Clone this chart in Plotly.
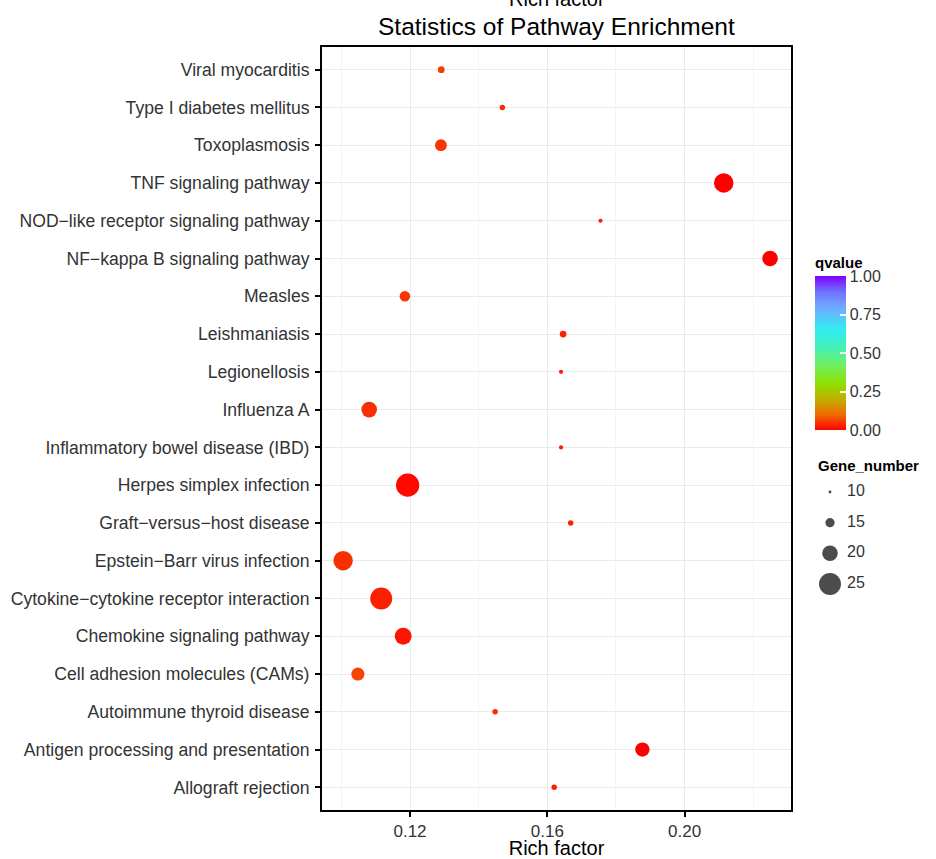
import plotly.graph_objects as go

# ---------------- data ----------------
pathways = [
    "Allograft rejection",
    "Antigen processing and presentation",
    "Autoimmune thyroid disease",
    "Cell adhesion molecules (CAMs)",
    "Chemokine signaling pathway",
    "Cytokine\u2212cytokine receptor interaction",
    "Epstein\u2212Barr virus infection",
    "Graft\u2212versus\u2212host disease",
    "Herpes simplex infection",
    "Inflammatory bowel disease (IBD)",
    "Influenza A",
    "Legionellosis",
    "Leishmaniasis",
    "Measles",
    "NF\u2212kappa B signaling pathway",
    "NOD\u2212like receptor signaling pathway",
    "TNF signaling pathway",
    "Toxoplasmosis",
    "Type I diabetes mellitus",
    "Viral myocarditis",
]
rich_factor = [0.1620, 0.1877, 0.1448, 0.1048, 0.1180, 0.1116, 0.1005, 0.1668, 0.1193, 0.1640,
               0.1081, 0.1640, 0.1646, 0.1185, 0.2249, 0.1755, 0.2114, 0.1290, 0.1469, 0.1291]
gene_number = [12, 19, 12, 18, 21, 25, 23, 12, 26, 11,
               20, 11, 13, 16, 20, 11, 23, 17, 12, 13]
qvalue = [0.03, 0.0, 0.04, 0.065, 0.02, 0.03, 0.045, 0.03, 0.008, 0.03,
          0.045, 0.03, 0.035, 0.05, 0.0, 0.03, 0.0, 0.05, 0.04, 0.055]

x_ticks = [0.12, 0.16, 0.20]
x_tick_labels = ["0.12", "0.16", "0.20"]
x_minor = [0.10, 0.14, 0.18, 0.22]
q_ticks = [0.0, 0.25, 0.50, 0.75, 1.00]
q_tick_labels = ["0.00", "0.25", "0.50", "0.75", "1.00"]
size_legend = [10, 15, 20, 25]

# ---------------- style ----------------
FONT = "Liberation Sans, Arial, sans-serif"
W, H = 936, 859
L, R, T, B = 322, 0, 47, 49
PW = W - L - R
PH = H - T - B
plot_bottom = H - B
plot_right = 791


def dia(n):
    return 1.27 * n - 9.8


def py(pix):
    """pixel row -> paper fraction"""
    return (plot_bottom - pix) / PH


colorscale = [
    [0.0, "#FF0000"], [0.1, "#F06A00"], [0.2, "#C0B000"], [0.3, "#8EE000"],
    [0.42, "#70F060"], [0.55, "#40F0C0"], [0.65, "#30EEF0"], [0.8, "#70A8FF"],
    [0.9, "#7070FF"], [1.0, "#8000FF"],
]

fig = go.Figure()

cb_bottom, cb_bar, cb_title = 430, 152, 24
cb_len = cb_bar + cb_title

fig.add_trace(go.Scatter(
    x=rich_factor, y=pathways, mode="markers",
    marker=dict(
        size=[dia(n) for n in gene_number],
        color=qvalue, cmin=0, cmax=1, colorscale=colorscale,
        line=dict(width=0), opacity=1,
        colorbar=dict(
            title=dict(text="<b>qvalue</b>", side="top",
                       font=dict(family=FONT, size=15, color="black")),
            x=(815 - L) / PW, xanchor="left",
            y=py(cb_bottom), yanchor="bottom",
            len=cb_len, lenmode="pixels", thickness=31, thicknessmode="pixels",
            xpad=0, ypad=0, outlinewidth=0,
            tickvals=q_ticks, ticktext=q_tick_labels,
            ticks="inside", ticklen=6, tickcolor="white", tickwidth=1.5,
            tickfont=dict(family=FONT, size=16, color="#333333"),
        ),
    ),
    showlegend=False, hoverinfo="x+y",
))

# size legend (auxiliary axes)
fig.add_trace(go.Scatter(
    x=[25] * len(size_legend), y=size_legend, mode="markers",
    marker=dict(size=[dia(n) for n in size_legend], color="black", line=dict(width=0)),
    xaxis="x2", yaxis="y2", showlegend=False, hoverinfo="skip",
))
fig.add_trace(go.Scatter(
    x=[42] * len(size_legend), y=size_legend, mode="text",
    text=[str(v) for v in size_legend], textposition="middle right",
    textfont=dict(family=FONT, size=16, color="#333333"),
    xaxis="x2", yaxis="y2", showlegend=False, hoverinfo="skip",
))

main_dom = (plot_right - L) / PW
# legend y-scale: value 10 at row 492, 6.13 px per unit
y2_top = 10 - (492 - T) / 6.13
y2_bot = 10 + (plot_bottom - 492) / 6.13

fig.update_layout(
    width=W, height=H,
    margin=dict(l=L, r=R, t=T, b=B),
    paper_bgcolor="white", plot_bgcolor="white",
    font=dict(family=FONT, color="#333333"),
    xaxis=dict(
        domain=[0, main_dom],
        range=[0.09435, 0.2310],
        tickvals=x_ticks, ticktext=x_tick_labels,
        ticks="outside", ticklen=5, tickwidth=1.5, tickcolor="black",
        tickfont=dict(family=FONT, size=17, color="#333333"),
        showline=True, linecolor="black", linewidth=2, mirror=True,
        showgrid=True, gridcolor="#EBEBEB", gridwidth=1.1,
        minor=dict(tickvals=x_minor, showgrid=True, gridcolor="#F4F4F4", gridwidth=0.6, ticks=""),
        zeroline=False,
        title=dict(text="Rich factor", font=dict(family=FONT, size=20, color="black"), standoff=1),
    ),
    yaxis=dict(
        categoryorder="array", categoryarray=pathways,
        range=[-0.6, len(pathways) - 0.4],
        ticks="outside", ticklen=5, tickwidth=1.5, tickcolor="black",
        tickfont=dict(family=FONT, size=17.6, color="#333333"),
        ticklabelstandoff=2,
        showline=True, linecolor="black", linewidth=2, mirror=True,
        showgrid=True, gridcolor="#EBEBEB", gridwidth=1.1,
        zeroline=False,
    ),
    xaxis2=dict(domain=[(805 - L) / PW, 1], range=[0, W - 805], visible=False, fixedrange=True),
    yaxis2=dict(domain=[0, 1], anchor="x2", range=[y2_bot, y2_top], visible=False, fixedrange=True),
    annotations=[
        dict(text="Rich factor", xref="paper", yref="paper",
             x=main_dom / 2, y=py(-1), xanchor="center", yanchor="middle",
             showarrow=False, font=dict(family=FONT, size=20, color="black")),
        dict(text="Statistics of Pathway Enrichment", xref="paper", yref="paper",
             x=main_dom / 2, y=py(26.5), xanchor="center", yanchor="middle",
             showarrow=False, font=dict(family=FONT, size=24.5, color="black")),
        dict(text="<b>Gene_number</b>", xref="paper", yref="paper",
             x=(816 - L) / PW, y=py(465), xanchor="left", yanchor="middle",
             showarrow=False, font=dict(family=FONT, size=15, color="black")),
    ],
)

fig.write_html(
    "out.html",
    config={"displayModeBar": False},
    post_script="document.body.style.margin='0';document.body.style.overflow='hidden';",
)
